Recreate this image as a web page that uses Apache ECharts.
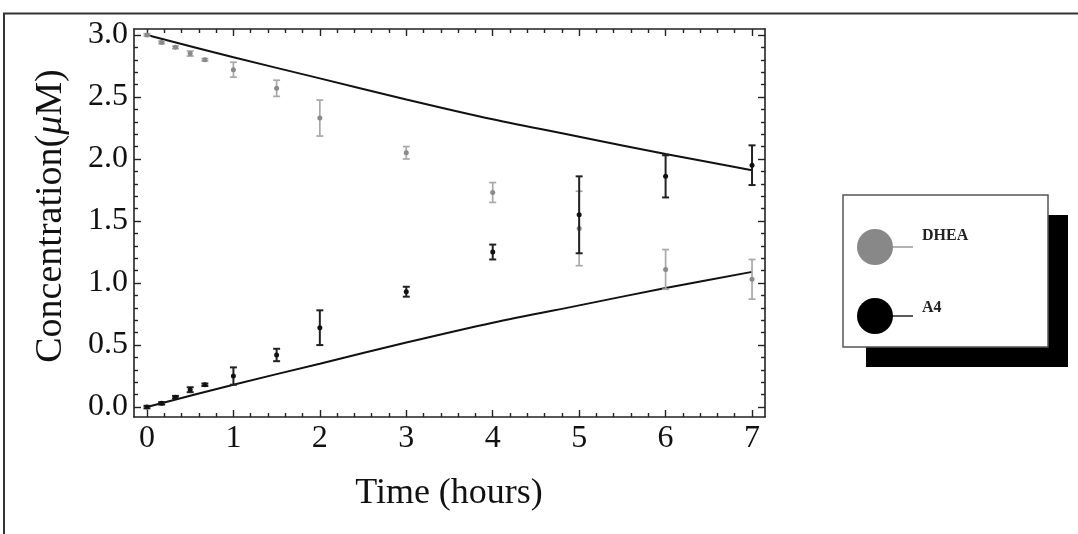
<!DOCTYPE html>
<html>
<head>
<meta charset="utf-8">
<script src="https://cdn.jsdelivr.net/npm/echarts@6/dist/echarts.min.js"></script>
<style>
html,body{margin:0;padding:0;background:#fff;}
#chart{width:1078px;height:534px;}
</style>
</head>
<body>
<div id="chart"></div>
<script>
// ---- data ----
var timeDHEA = [0, 0.17, 0.33, 0.5, 0.67, 1, 1.5, 2, 3, 4, 5, 6, 7];
var valDHEA  = [3.00, 2.94, 2.90, 2.85, 2.80, 2.72, 2.57, 2.33, 2.05, 1.73, 1.44, 1.11, 1.03];
var errDHEA  = [0.01, 0.01, 0.01, 0.02, 0.01, 0.06, 0.065, 0.145, 0.05, 0.08, 0.30, 0.16, 0.16];

var timeA4 = [0, 0.17, 0.33, 0.5, 0.67, 1, 1.5, 2, 3, 4, 5, 6, 7];
var valA4  = [0.00, 0.03, 0.08, 0.14, 0.18, 0.25, 0.42, 0.64, 0.93, 1.25, 1.55, 1.86, 1.95];
var errA4  = [0.01, 0.01, 0.01, 0.02, 0.01, 0.07, 0.05, 0.14, 0.04, 0.06, 0.31, 0.17, 0.16];

var modelTime  = [0, 1, 2, 3, 4, 5, 6, 7];
var modelDHEA  = [3.00, 2.82, 2.65, 2.48, 2.32, 2.18, 2.04, 1.91];
var modelA4    = [0.00, 0.18, 0.35, 0.52, 0.68, 0.82, 0.96, 1.09];

var xTickValues = [0, 1, 2, 3, 4, 5, 6, 7];
var xTickLabels = ['0', '1', '2', '3', '4', '5', '6', '7'];
var yTickValues = [0, 0.5, 1, 1.5, 2, 2.5, 3];
var yTickLabels = ['0.0', '0.5', '1.0', '1.5', '2.0', '2.5', '3.0'];

var seriesNames = ['DHEA', 'A4'];
var xTitle = 'Time (hours)';

// ---- layout / style ----
var XMIN = -0.15, XMAX = 7.15, YMIN = -0.08, YMAX = 3.048;
var FONT = '"Liberation Serif", "DejaVu Serif", serif';
var AXC = '#222';

function minorBetween(majors, step) {
  var out = [];
  for (var i = 0; i < majors.length - 1; i++) {
    for (var v = majors[i] + step; v < majors[i + 1] - step / 2; v += step) out.push(+v.toFixed(4));
  }
  return out;
}
var xMinor = minorBetween(xTickValues, 0.2);
var yMinor = minorBetween(yTickValues, 0.1);
yMinor = [-0.1].concat(yMinor).filter(function (v) { return v >= YMIN; });

function zip3(a, b, c) { return a.map(function (v, i) { return [v, b[i], c[i]]; }); }
function zip2(a, b) { return a.map(function (v, i) { return [v, b[i]]; }); }

function errRender(barColor, dotColor, lw) {
  return function (params, api) {
    var x = api.value(0), y = api.value(1), e = api.value(2);
    var c = api.coord([x, y]);
    var hi = api.coord([x, y + e]);
    var lo = api.coord([x, y - e]);
    var cap = 3.5;
    var st = { stroke: barColor, lineWidth: lw };
    return {
      type: 'group',
      children: [
        { type: 'line', shape: { x1: c[0], y1: hi[1], x2: c[0], y2: lo[1] }, style: st },
        { type: 'line', shape: { x1: c[0] - cap, y1: hi[1], x2: c[0] + cap, y2: hi[1] }, style: st },
        { type: 'line', shape: { x1: c[0] - cap, y1: lo[1], x2: c[0] + cap, y2: lo[1] }, style: st },
        { type: 'circle', shape: { cx: c[0], cy: c[1], r: 2.5 }, style: { fill: dotColor } }
      ]
    };
  };
}

function xAxisDef(pos, values, len, showLine, labels) {
  return {
    type: 'value', position: pos, min: XMIN, max: XMAX, gridIndex: 0,
    axisLine: { show: showLine, onZero: false, lineStyle: { color: AXC, width: 1.6 } },
    axisTick: { show: true, inside: true, length: len, customValues: values, lineStyle: { color: AXC, width: 1.4 } },
    axisLabel: labels ? {
      show: true, customValues: values, margin: 6, fontSize: 32, fontFamily: FONT, color: '#111',
      formatter: function (v) { var i = xTickValues.indexOf(Math.round(v * 1000) / 1000); return i >= 0 ? xTickLabels[i] : ''; }
    } : { show: false },
    splitLine: { show: false }
  };
}
function yAxisDef(pos, values, len, showLine, labels) {
  return {
    type: 'value', position: pos, min: YMIN, max: YMAX, gridIndex: 0,
    axisLine: { show: showLine, onZero: false, lineStyle: { color: AXC, width: 1.6 } },
    axisTick: { show: true, inside: true, length: len, customValues: values, lineStyle: { color: AXC, width: 1.4 } },
    axisLabel: labels ? {
      show: true, customValues: values, margin: 6, fontSize: 32, fontFamily: FONT, color: '#111',
      formatter: function (v) { var i = yTickValues.indexOf(Math.round(v * 1000) / 1000); return i >= 0 ? yTickLabels[i] : ''; }
    } : { show: false },
    splitLine: { show: false }
  };
}

var chart = echarts.init(document.getElementById('chart'), null, { renderer: 'canvas' });

var option = {
  backgroundColor: '#fff',
  animation: false,
  grid: { left: 134, top: 29, width: 631, height: 388 },
  xAxis: [
    xAxisDef('bottom', xTickValues, 7, true, true),
    xAxisDef('bottom', xMinor, 4, false, false),
    xAxisDef('top', xTickValues, 7, true, false),
    xAxisDef('top', xMinor, 4, false, false)
  ],
  yAxis: [
    yAxisDef('left', yTickValues, 7, true, true),
    yAxisDef('left', yMinor, 4, false, false),
    yAxisDef('right', yTickValues, 7, true, false),
    yAxisDef('right', yMinor, 4, false, false)
  ],
  series: [
    { type: 'line', name: 'modelDHEA', data: zip2(modelTime, modelDHEA), showSymbol: false, symbol: 'none',
      lineStyle: { color: '#111', width: 2 }, smooth: 0.3, z: 3 },
    { type: 'line', name: 'modelA4', data: zip2(modelTime, modelA4), showSymbol: false, symbol: 'none',
      lineStyle: { color: '#111', width: 2 }, smooth: 0.3, z: 3 },
    { type: 'custom', name: seriesNames[0], data: zip3(timeDHEA, valDHEA, errDHEA),
      renderItem: errRender('#a8a8a8', '#8a8a8a', 1.7), z: 4 },
    { type: 'custom', name: seriesNames[1], data: zip3(timeA4, valA4, errA4),
      renderItem: errRender('#222', '#111', 2), z: 5 }
  ],
  graphic: [
    // outer frame (top + left)
    { type: 'polyline', shape: { points: [[4, 534], [4, 13.5], [1078, 13.5]] },
      style: { stroke: '#333', lineWidth: 2, fill: null }, z: 10 },
    // axis titles
    { type: 'text', x: 449, y: 494,
      style: { text: xTitle, font: '36px ' + FONT, fill: '#111', textAlign: 'center', textVerticalAlign: 'middle' } },
    { type: 'text', x: 51, y: 216, rotation: Math.PI / 2,
      style: {
        text: '{n|Concentration(}{i|μ}{n|M)}', textAlign: 'center', textVerticalAlign: 'middle',
        rich: { n: { fontSize: 38, fontFamily: FONT, fill: '#111' },
                i: { fontSize: 38, fontFamily: FONT, fontStyle: 'italic', fill: '#111' } }
      } },
    // legend
    { type: 'rect', shape: { x: 866, y: 215, width: 202, height: 152 }, style: { fill: '#000' }, z: 20 },
    { type: 'rect', shape: { x: 843, y: 195, width: 205, height: 152 },
      style: { fill: '#fff', stroke: '#555', lineWidth: 1.5 }, z: 21 },
    { type: 'line', shape: { x1: 890, y1: 247, x2: 913, y2: 247 }, style: { stroke: '#999', lineWidth: 1.5 }, z: 22 },
    { type: 'circle', shape: { cx: 875, cy: 247, r: 18 }, style: { fill: '#888' }, z: 23 },
    { type: 'text', x: 922, y: 236, z: 23,
      style: { text: seriesNames[0], font: 'bold 16px ' + FONT, fill: '#222', textVerticalAlign: 'middle' } },
    { type: 'line', shape: { x1: 890, y1: 316, x2: 913, y2: 316 }, style: { stroke: '#222', lineWidth: 1.5 }, z: 22 },
    { type: 'circle', shape: { cx: 875, cy: 316, r: 18 }, style: { fill: '#000' }, z: 23 },
    { type: 'text', x: 922, y: 308, z: 23,
      style: { text: seriesNames[1], font: 'bold 16px ' + FONT, fill: '#222', textVerticalAlign: 'middle' } }
  ]
};
chart.setOption(option);
</script>
</body>
</html>
